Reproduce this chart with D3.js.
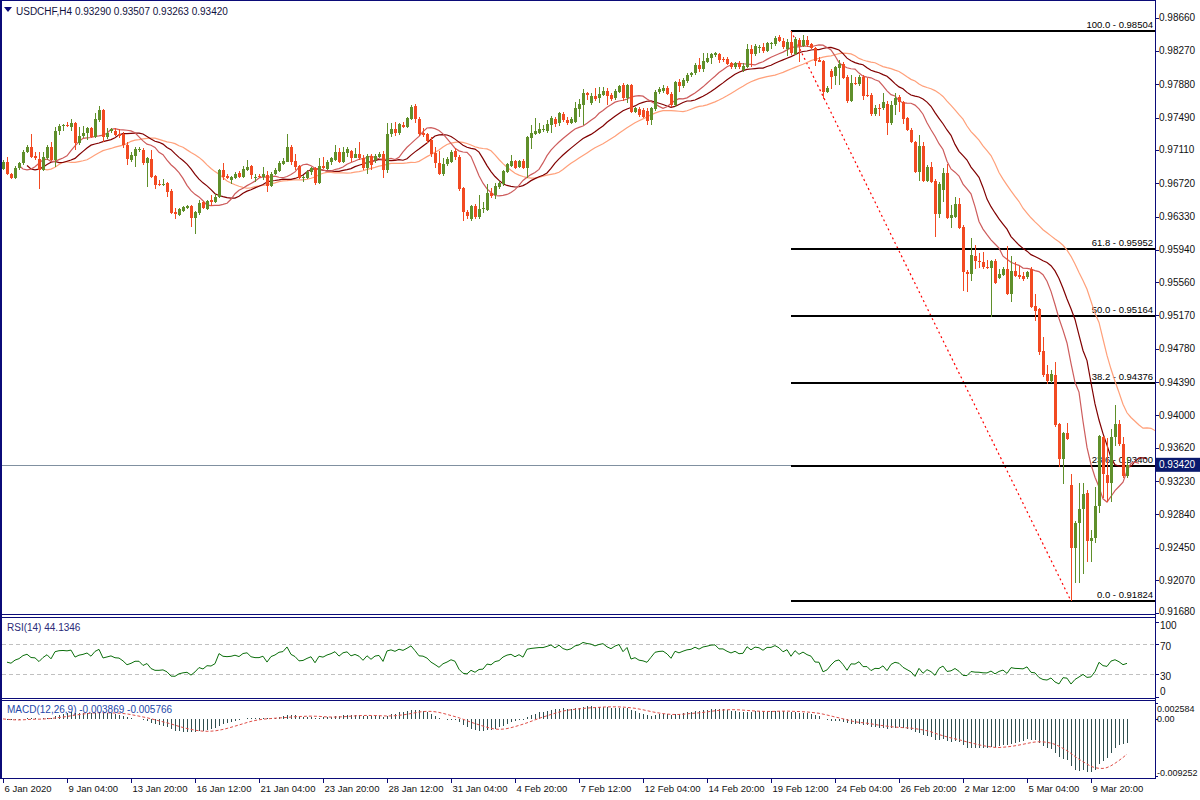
<!DOCTYPE html>
<html><head><meta charset="utf-8">
<script src="https://cdn.jsdelivr.net/npm/d3@7"></script>
<style>
body{margin:0;background:#fff}
svg{display:block}
text{font-family:"Liberation Sans",Arial,sans-serif}
</style>
</head><body>
<svg id="c" width="1200" height="800"></svg>
<script>
// ---------------- DATA ----------------
const symbolTitle = "USDCHF,H4";
const lastOHLC = "0.93290 0.93507 0.93263 0.93420";
const bidPrice = 0.93420;

const opens = [.96887,.96969,.96828,.96781,.96898,.96957,.97086,.97144,.97039,.97004,.96875,.97015,.97144,.96992,.97332,.97390,.97402,.97379,.97426,.97191,
.97273,.97308,.97367,.97262,.97461,.97578,.97262,.97332,.97332,.97297,.97297,.97168,.96992,.97039,.97109,.97109,.96957,.97004,.96805,.96711,
.96699,.96722,.96629,.96383,.96347,.96394,.96430,.96453,.96312,.96371,.96500,.96418,.96523,.96500,.96558,.96875,.96805,.96758,.96781,.96840,
.96793,.96875,.96922,.96781,.96805,.96793,.96816,.96687,.96828,.96863,.96945,.96969,.97144,.96980,.96922,.96781,.96781,.96851,.96898,.96722,
.96922,.96887,.96969,.96992,.97086,.96969,.97074,.97097,.97015,.97062,.97015,.96898,.97039,.96992,.97027,.97062,.96875,.97297,.97355,.97308,
.97402,.97379,.97473,.97625,.97473,.97308,.97297,.97226,.97074,.96957,.96828,.96945,.96969,.97097,.97027,.96664,.96383,.96301,.96453,.96324,
.96418,.96406,.96605,.96582,.96676,.96711,.96851,.96922,.96980,.96910,.96980,.96898,.97250,.97297,.97308,.97344,.97332,.97402,.97473,.97426,
.97531,.97461,.97426,.97437,.97590,.97637,.97777,.97660,.97742,.97718,.97754,.97800,.97754,.97718,.97789,.97871,.97718,.97871,.97555,.97590,
.97578,.97566,.97461,.97590,.97789,.97800,.97836,.97765,.97637,.97906,.97859,.97918,.97988,.98011,.98105,.98058,.98140,.98187,.98222,.98234,
.98175,.98175,.98129,.98082,.98129,.98047,.98082,.98293,.98234,.98304,.98316,.98269,.98351,.98351,.98433,.98386,.98293,.98375,.98234,.98398,
.98328,.98398,.98351,.98304,.98164,.98152,.97789,.98035,.97976,.98070,.98117,.97965,.97683,.97894,.97883,.97965,.97754,.97754,.97531,.97601,
.97601,.97648,.97426,.97637,.97730,.97672,.97484,.97344,.97203,.96851,.97156,.96746,.96910,.96746,.96359,.96640,.96840,.96312,.96324,.96476,
.96207,.95679,.95656,.95867,.95808,.95797,.95738,.95726,.95808,.95609,.95644,.95715,.95422,.95691,.95644,.95632,.95621,.95715,.95281,.95246,
.94754,.94484,.94402,.94472,.93898,.93488,.93793,.93183,.92445,.92738,.92902,.93090,.92527,.92562,.92937,.93746,.93300,.93207,.93746,.93898,
.93664,.93290];

const highs = [.96992,.97027,.96840,.96922,.96969,.97109,.97168,.97297,.97086,.97086,.97086,.97168,.97203,.97379,.97414,.97414,.97437,.97473,.97437,.97379,
.97390,.97379,.97379,.97543,.97625,.97590,.97367,.97367,.97367,.97355,.97320,.97203,.97086,.97144,.97144,.97133,.97027,.97109,.96816,.96758,
.96769,.96734,.96652,.96430,.96430,.96453,.96465,.96465,.96394,.96523,.96512,.96523,.96582,.96594,.96887,.96957,.96828,.96805,.96851,.96863,
.96922,.96992,.96933,.96828,.96828,.96910,.96863,.96851,.96898,.96980,.97015,.97297,.97168,.97062,.96933,.96816,.96875,.96910,.96910,.97015,
.97027,.96992,.97027,.97168,.97133,.97144,.97144,.97109,.97133,.97203,.97051,.97062,.97062,.97062,.97086,.97097,.97426,.97426,.97437,.97426,
.97437,.97496,.97637,.97648,.97496,.97367,.97308,.97262,.97144,.97097,.97015,.97027,.97109,.97133,.97051,.96670,.96406,.96465,.96476,.96582,
.96500,.96711,.96664,.96722,.96746,.96875,.96957,.97051,.96992,.96992,.97004,.97273,.97402,.97484,.97426,.97402,.97461,.97508,.97496,.97555,
.97555,.97496,.97496,.97672,.97707,.97824,.97789,.97777,.97836,.97847,.97847,.97836,.97777,.97824,.97871,.97894,.97883,.97883,.97613,.97613,
.97601,.97601,.97613,.97812,.97847,.97871,.97859,.97789,.97918,.97941,.97953,.98011,.98023,.98129,.98187,.98246,.98246,.98246,.98258,.98246,
.98199,.98199,.98140,.98140,.98152,.98129,.98351,.98340,.98351,.98340,.98363,.98375,.98375,.98445,.98457,.98422,.98410,.98504,.98433,.98422,
.98457,.98445,.98363,.98316,.98199,.98164,.97859,.98058,.98093,.98164,.98140,.97988,.97988,.97965,.97988,.97988,.97953,.97777,.97637,.97648,
.97777,.97683,.97683,.97777,.97754,.97683,.97496,.97367,.97215,.97285,.97203,.96933,.96969,.96769,.96734,.96898,.96945,.96465,.96558,.96547,
.96230,.95703,.96078,.95996,.95902,.95914,.95820,.95820,.95832,.95715,.95738,.95984,.95867,.95797,.95750,.95679,.95691,.95738,.95422,.95258,
.94918,.94590,.94531,.94625,.93910,.93804,.93910,.93312,.92761,.93207,.93207,.93125,.92656,.93160,.93769,.93758,.93734,.93840,.94121,.93945,
.93746,.93507];

const lows = [.96875,.96816,.96769,.96769,.96875,.96933,.97074,.97015,.96992,.96652,.96863,.96992,.96980,.96910,.97285,.97332,.97379,.97332,.97109,.97168,
.97250,.97226,.97250,.97250,.97437,.97203,.97238,.97308,.97273,.97250,.97133,.96933,.96969,.96910,.97086,.96933,.96676,.96781,.96652,.96687,
.96687,.96558,.96359,.96301,.96336,.96383,.96418,.96207,.96125,.96347,.96418,.96406,.96453,.96488,.96547,.96758,.96769,.96711,.96775,.96781,
.96781,.96863,.96769,.96734,.96781,.96758,.96617,.96676,.96816,.96851,.96933,.96965,.96933,.96875,.96769,.96734,.96769,.96816,.96699,.96711,
.96887,.96875,.96933,.96980,.96957,.96957,.97027,.96969,.97010,.96992,.96875,.96828,.96875,.96957,.97015,.96781,.96840,.97262,.97273,.97285,
.97367,.97367,.97461,.97426,.97273,.97262,.97191,.97027,.96898,.96816,.96805,.96922,.96957,.96992,.96629,.96277,.96301,.96277,.96301,.96301,
.96371,.96394,.96547,.96535,.96652,.96687,.96840,.96910,.96887,.96898,.96887,.96781,.97121,.97285,.97300,.97320,.97308,.97308,.97379,.97390,
.97437,.97402,.97414,.97426,.97496,.97402,.97695,.97637,.97683,.97660,.97742,.97637,.97683,.97695,.97777,.97683,.97660,.97543,.97543,.97496,
.97484,.97402,.97402,.97566,.97765,.97777,.97754,.97613,.97613,.97789,.97836,.97894,.97965,.97988,.98023,.98023,.98129,.98117,.98199,.98129,
.98140,.98105,.98058,.98058,.98058,.98023,.98070,.98082,.98211,.98246,.98246,.98258,.98293,.98328,.98375,.98293,.98211,.98222,.98222,.98140,
.98316,.98316,.98293,.98093,.98135,.97707,.97777,.97824,.97871,.97871,.97941,.97660,.97672,.97871,.97859,.97695,.97730,.97508,.97508,.97508,
.97578,.97285,.97402,.97519,.97555,.97414,.97332,.97191,.96840,.96746,.96734,.96734,.96722,.96090,.96312,.96500,.96301,.96195,.96312,.96183,
.95457,.95445,.95574,.95715,.95726,.95715,.95715,.95152,.95539,.95597,.95632,.95410,.95328,.95621,.95597,.95574,.95597,.95258,.95105,.94707,
.94449,.94367,.94379,.93863,.93394,.93195,.93711,.91824,.92035,.92035,.92140,.92281,.92281,.92503,.92855,.93031,.92984,.92984,.93641,.93641,
.93265,.93263];

const closes = [.96969,.96828,.96781,.96898,.96957,.97086,.97144,.97027,.97015,.96875,.97027,.97144,.96992,.97332,.97390,.97402,.97390,.97426,.97191,.97273,
.97308,.97367,.97262,.97473,.97578,.97262,.97308,.97355,.97285,.97273,.97168,.97004,.97051,.97121,.97121,.96957,.97015,.96793,.96699,.96699,
.96711,.96617,.96371,.96359,.96418,.96441,.96453,.96312,.96383,.96488,.96430,.96512,.96500,.96558,.96875,.96793,.96781,.96793,.96828,.96793,
.96887,.96910,.96816,.96793,.96793,.96828,.96687,.96828,.96875,.96957,.96980,.97144,.96969,.96910,.96781,.96793,.96851,.96898,.96722,.96922,
.96898,.96969,.97015,.97086,.96969,.97086,.97121,.97015,.97062,.97015,.96898,.97039,.96933,.97039,.97062,.96875,.97297,.97355,.97308,.97414,
.97379,.97484,.97613,.97473,.97297,.97285,.97215,.97062,.96957,.96828,.96945,.97004,.97086,.97027,.96652,.96383,.96336,.96453,.96324,.96418,
.96430,.96605,.96570,.96687,.96722,.96863,.96945,.96980,.96898,.96980,.96898,.97262,.97308,.97332,.97355,.97355,.97414,.97484,.97414,.97543,
.97461,.97426,.97473,.97601,.97648,.97777,.97754,.97742,.97707,.97765,.97800,.97742,.97707,.97800,.97859,.97718,.97871,.97555,.97601,.97519,
.97496,.97449,.97601,.97789,.97824,.97836,.97765,.97637,.97906,.97859,.97929,.97988,.98011,.98105,.98058,.98152,.98187,.98234,.98246,.98164,
.98164,.98117,.98082,.98129,.98082,.98093,.98293,.98234,.98328,.98316,.98269,.98363,.98363,.98422,.98386,.98316,.98375,.98246,.98410,.98328,
.98398,.98340,.98304,.98152,.98145,.97789,.97836,.97965,.98082,.98117,.97953,.97683,.97894,.97883,.97965,.97742,.97742,.97531,.97601,.97590,
.97672,.97426,.97637,.97718,.97672,.97473,.97344,.97203,.96851,.97156,.96746,.96910,.96734,.96359,.96711,.96840,.96312,.96347,.96476,.96195,
.95679,.95656,.95879,.95808,.95797,.95738,.95726,.95808,.95551,.95656,.95715,.95422,.95691,.95632,.95621,.95597,.95679,.95269,.95222,.94742,
.94472,.94402,.94484,.93887,.93488,.93793,.93722,.92445,.92738,.92902,.93078,.92527,.92562,.92937,.93758,.93312,.93207,.93746,.93898,.93664,
.93289,.93420];

const timeLabels = ["6 Jan 2020","9 Jan 04:00","13 Jan 20:00","16 Jan 12:00","21 Jan 04:00","23 Jan 20:00","28 Jan 12:00","31 Jan 04:00","4 Feb 20:00",
  "7 Feb 12:00","12 Feb 04:00","14 Feb 20:00","19 Feb 12:00","24 Feb 04:00","26 Feb 20:00","2 Mar 12:00","5 Mar 04:00","9 Mar 20:00"];
const timeLabelBars = [0,16,32,48,64,80,96,112,128,144,160,176,192,208,224,240,256,272];

const priceTicks = [0.98660,0.98270,0.97880,0.97490,0.97110,0.96720,0.96330,0.95940,0.95560,0.95170,0.94780,0.94390,0.94000,0.93620,0.93230,0.92840,0.92450,0.92070,0.91680];

const fibHigh = 0.98504, fibLow = 0.91824;
const fibHighBar = 197, fibLowBar = 267;
const fibLevels = [100.0, 61.8, 50.0, 38.2, 23.6, 0.0];

const rsiTitle = "RSI(14) 44.1346";
const rsiTicks = [100,70,30,0];
const rsiLevels = [70,30];
const macdTitle = "MACD(12,26,9) -0.003869 -0.005766";
const macdTicks = [0.002584, 0, -0.009252];
const macdTickText = ["0.002584","0.00","-0.009252"];

// ---------------- LAYOUT ----------------
const svg = d3.select("#c");
const NAVY = "#0b0b78";
const plotL = 2, plotR = 1155;
const mainTop = 0, mainBot = 614;
const rsiTop = 617, rsiBot = 698;
const macdTop = 700, macdBot = 778;

const x = d3.scaleLinear().domain([0, closes.length - 1]).range([3, 3 + 4 * (closes.length - 1)]);
const y = d3.scaleLinear().domain([fibHigh, fibLow]).range([31, 601]);
const yR = d3.scaleLinear().domain([0, 100]).range([696.5, 621.5]);
const yM = d3.scaleLinear().domain([-0.009252, 0.002584]).range([776, 703]);

const defs = svg.append("defs");
defs.append("clipPath").attr("id","cm").append("rect").attr("x",plotL).attr("y",mainTop).attr("width",plotR-plotL).attr("height",mainBot-mainTop);
defs.append("clipPath").attr("id","cr").append("rect").attr("x",plotL).attr("y",rsiTop).attr("width",plotR-plotL).attr("height",rsiBot-rsiTop);
defs.append("clipPath").attr("id","cd").append("rect").attr("x",plotL).attr("y",macdTop).attr("width",plotR-plotL).attr("height",macdBot-macdTop);

// ---------------- MAIN PANEL ----------------
const gMain = svg.append("g").attr("clip-path","url(#cm)");

// bid line
gMain.append("line").attr("x1",plotL).attr("x2",plotR)
  .attr("y1",Math.round(y(bidPrice))+0.5).attr("y2",Math.round(y(bidPrice))+0.5)
  .attr("stroke","#8090a0").attr("stroke-width",1);

// fibonacci
const fibX0 = x(fibHighBar);
gMain.append("line").attr("x1",fibX0).attr("y1",y(fibHigh)).attr("x2",x(fibLowBar)).attr("y2",y(fibLow))
  .attr("stroke","#ff0000").attr("stroke-width",1.2).attr("stroke-dasharray","2,3");
fibLevels.forEach(l=>{
  const p = fibLow + (fibHigh - fibLow) * l / 100;
  const yy = Math.round(y(p));
  gMain.append("line").attr("x1",fibX0).attr("x2",plotR).attr("y1",yy).attr("y2",yy)
    .attr("stroke","#000").attr("stroke-width",2);
  gMain.append("text").attr("x",1153).attr("y",yy-3).attr("text-anchor","end")
    .attr("font-size","9.5px").attr("fill","#000")
    .text(l.toFixed(1) + " - " + p.toFixed(5));
});

// Alligator-style smoothed moving averages of median price
const median = highs.map((h,i)=>(h+lows[i])/2);
function smma(src,n){
  const out=[]; let v=0;
  for(let i=0;i<src.length;i++){
    if(i<n){ v = d3.mean(src.slice(0,i+1)); }
    else { v = (v*(n-1)+src[i])/n; }
    out.push(v);
  }
  return out;
}
const maDefs = [
  {n:13, shift:8, color:"#ffa07a"},
  {n:8,  shift:5, color:"#800000"},
  {n:5,  shift:3, color:"#cd5c5c"}
];
maDefs.forEach(m=>{
  const vals = smma(median,m.n);
  const pts = vals.map((v,i)=>[x(i+m.shift), y(v)]).filter((p,i)=>i>=1);
  gMain.append("path").attr("d",d3.line()(pts)).attr("fill","none")
    .attr("stroke",m.color).attr("stroke-width",1.2);
});

// candles
const BULL = "#5f8f2a", BEAR = "#f24a22";
const cg = gMain.append("g").attr("shape-rendering","crispEdges");
closes.forEach((c,i)=>{
  const o = opens[i], up = c >= o, col = up ? BULL : BEAR;
  const cx = x(i);
  cg.append("line").attr("x1",cx+0.5).attr("x2",cx+0.5)
    .attr("y1",y(highs[i])).attr("y2",y(lows[i])).attr("stroke",col).attr("stroke-width",1);
  const top = y(Math.max(o,c)), bot = y(Math.min(o,c));
  cg.append("rect").attr("x",cx-1).attr("y",top).attr("width",3)
    .attr("height",Math.max(1,bot-top)).attr("fill",col);
});

// header
svg.append("path").attr("d","M4,7 L12,7 L8,12 Z").attr("fill",NAVY);
svg.append("text").attr("x",16).attr("y",15).attr("font-size","10px").attr("fill","#111140")
  .text(symbolTitle + "  " + lastOHLC);

// ---------------- RSI PANEL ----------------
const gR = svg.append("g").attr("clip-path","url(#cr)");
rsiLevels.forEach(l=>{
  gR.append("line").attr("x1",plotL).attr("x2",plotR).attr("y1",Math.round(yR(l))+0.5).attr("y2",Math.round(yR(l))+0.5)
    .attr("stroke","#c0c0c0").attr("stroke-dasharray","4,3");
});
function rsiCalc(c,n){
  const diffs = c.slice(1).map((v,i)=>v-c[i]);
  let ag = d3.mean(diffs.slice(0,n).map(Math.abs))/2, al = ag;
  const out=[null];
  for(let i=1;i<c.length;i++){
    const d = c[i]-c[i-1];
    ag = (ag*(n-1)+Math.max(d,0))/n;
    al = (al*(n-1)+Math.max(-d,0))/n;
    out.push(al===0?100:100-100/(1+ag/al));
  }
  return out;
}
const rsiVals = rsiCalc(closes,14);
gR.append("path").attr("d",d3.line().defined(d=>d[1]!=null).x(d=>x(d[0])).y(d=>yR(d[1]))(rsiVals.map((v,i)=>[i,v])))
  .attr("fill","none").attr("stroke","#0b6e0b").attr("stroke-width",1);
svg.append("text").attr("x",7).attr("y",631).attr("font-size","10px").attr("fill","#2a2a78").text(rsiTitle);

// ---------------- MACD PANEL ----------------
const gD = svg.append("g").attr("clip-path","url(#cd)");
function ema(src,n){const k=2/(n+1);const out=[];let v=src[0];src.forEach((s,i)=>{v=i===0?s:s*k+v*(1-k);out.push(v);});return out;}
const e12 = ema(closes,12), e26 = ema(closes,26);
const macd = e12.map((v,i)=>v-e26[i]);
const signal = macd.map((v,i)=>d3.mean(macd.slice(Math.max(0,i-8),i+1)));
const hg = gD.append("g").attr("shape-rendering","crispEdges");
macd.forEach((v,i)=>{
  hg.append("line").attr("x1",x(i)+0.5).attr("x2",x(i)+0.5).attr("y1",yM(0)).attr("y2",yM(v))
    .attr("stroke","#2f4f4f").attr("stroke-width",1);
});
gD.append("path").attr("d",d3.line()(signal.map((v,i)=>[x(i),yM(v)])))
  .attr("fill","none").attr("stroke","#e0504a").attr("stroke-width",1).attr("stroke-dasharray","3,2");
svg.append("text").attr("x",7).attr("y",713).attr("font-size","10px").attr("fill","#2448a8").text(macdTitle);

// ---------------- FRAMES ----------------
const fr = svg.append("g").attr("stroke",NAVY).attr("shape-rendering","crispEdges");
fr.append("line").attr("x1",1).attr("x2",1).attr("y1",0).attr("y2",macdBot).attr("stroke-width",2);
fr.append("line").attr("x1",plotR+0.5).attr("x2",plotR+0.5).attr("y1",0).attr("y2",macdBot+1);
[0.5, mainBot+0.5, rsiTop+0.5, rsiBot+0.5, macdTop+0.5, macdBot+0.5].forEach(yy=>{
  fr.append("line").attr("x1",0).attr("x2",plotR).attr("y1",yy).attr("y2",yy);
});

// ---------------- AXES ----------------
const axT = svg.append("g");
priceTicks.forEach(p=>{
  const yy = y(p);
  axT.append("line").attr("x1",plotR).attr("x2",plotR+4).attr("y1",Math.round(yy)+0.5).attr("y2",Math.round(yy)+0.5).attr("stroke",NAVY);
  axT.append("text").attr("x",1159).attr("y",Math.min(yy,611)+3.5).attr("font-size","10px").attr("fill","#111").text(p.toFixed(5));
});
// bid label
const by = y(bidPrice);
axT.append("rect").attr("x",plotR+1).attr("y",by-7).attr("width",45).attr("height",14).attr("fill","#0a1a6e");
axT.append("text").attr("x",1159).attr("y",by+3.5).attr("font-size","10px").attr("fill","#fff").text(bidPrice.toFixed(5));

rsiTicks.forEach(v=>{
  const yy = Math.max(625, Math.min(691, yR(v)+2));
  axT.append("line").attr("x1",plotR).attr("x2",plotR+4).attr("y1",Math.round(yR(v))+0.5).attr("y2",Math.round(yR(v))+0.5).attr("stroke",NAVY);
  axT.append("text").attr("x",1160).attr("y",yy+3.5).attr("font-size","10px").attr("fill","#111").text(v);
});
macdTicks.forEach((v,i)=>{
  const yy = Math.max(708, Math.min(772, yM(v)));
  axT.append("line").attr("x1",plotR).attr("x2",plotR+3).attr("y1",Math.round(yM(v))+0.5).attr("y2",Math.round(yM(v))+0.5).attr("stroke",NAVY);
  axT.append("text").attr("x",1157).attr("y",yy+3.5).attr("font-size","9px").attr("fill","#111").text(macdTickText[i]);
});
timeLabelBars.forEach((b,i)=>{
  const xx = Math.round(x(b))+0.5;
  axT.append("line").attr("x1",xx).attr("x2",xx).attr("y1",macdBot).attr("y2",macdBot+5).attr("stroke",NAVY);
  axT.append("text").attr("x",xx+1).attr("y",792).attr("font-size","9.5px").attr("fill","#111").text(timeLabels[i]);
});
</script>
</body></html>
